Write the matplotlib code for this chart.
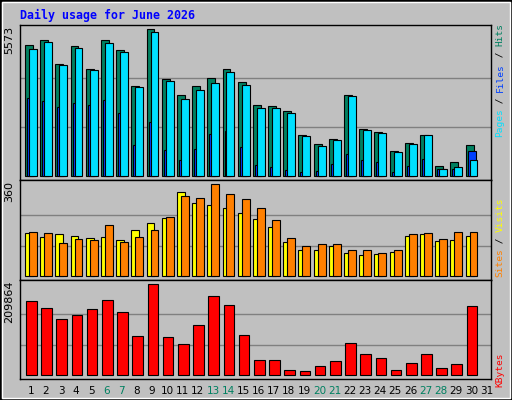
import matplotlib
matplotlib.use("Agg")
import matplotlib.pyplot as plt
from matplotlib.patches import Rectangle

days = list(range(1, 32))
weekend = [6, 7, 13, 14, 20, 21, 27, 28]
hits = [4980, 5170, 4260, 4942, 4070, 5170, 4790, 3425, 5573, 3678, 3084, 3425, 3729, 4070, 3577,
        2705, 2667, 2477, 1567, 1226, 1416, 3084, 1795, 1681, 961, 1264, 1567, 392, 544, 1188]
files = [2970, 2857, 2629, 2781, 2705, 2895, 2402, 1188, 2060, 999, 619, 1036, 1605, 1719, 1112,
         430, 354, 240, 164, 202, 468, 847, 619, 544, 164, 392, 657, 278, 278, 961]
pages = [4828, 5094, 4222, 4866, 4032, 5056, 4715, 3388, 5473, 3615, 2932, 3274, 3539, 3956, 3463,
         2591, 2591, 2402, 1529, 1150, 1378, 3046, 1757, 1643, 923, 1226, 1567, 278, 354, 619]
visits = [169, 153, 165, 157, 149, 153, 142, 181, 208, 227, 329, 286, 278, 266, 247,
          224, 192, 134, 103, 103, 118, 91, 83, 87, 95, 157, 165, 138, 142, 157]
sites = [173, 169, 130, 146, 142, 200, 134, 153, 181, 231, 313, 304, 360, 321, 301,
         266, 218, 149, 117, 126, 126, 103, 103, 91, 103, 165, 169, 146, 173, 173]
kbytes = [170800, 154700, 129400, 138600, 152400, 173100, 145500, 90400, 209864, 88100, 72000,
          115700, 182300, 161600, 92700, 35200, 35200, 12300, 10000, 21400, 32900, 74300, 49000,
          39800, 12300, 28300, 49000, 16800, 26000, 159300]

BG = "#c0c0c0"
fig = plt.figure(figsize=(5.12, 4.0), dpi=100, facecolor=BG)
fig.patches.append(Rectangle((0, 0), 1, 1, transform=fig.transFigure, fill=False,
                             edgecolor="black", lw=2))
fig.patches.append(Rectangle((2/512, 2/400), 508/512, 396/400, transform=fig.transFigure, fill=False,
                             edgecolor="white", lw=1))

L, W = 20/512, 471/512
def mk(top, bot):
    return fig.add_axes([L, 1-bot/400, W, (bot-top)/400], facecolor=BG)

ax1 = mk(24.7, 180)
ax2 = mk(180, 280)
ax3 = mk(280, 379)

def style(ax, ylo, yhi, vmax):
    ax.set_xlim(0, 31)
    ax.set_ylim(ylo, yhi)
    for k in (1, 2):
        ax.axhline(vmax*k/3, color="#808080", lw=1, zorder=0)
    ax.set_xticks([]); ax.set_yticks([])
    for s in ax.spines.values():
        s.set_color("black"); s.set_linewidth(1)

x = [d - 1 for d in days[:30]]
kw = dict(align="edge", edgecolor="black", linewidth=0.8)
ax1.bar([v + 0.33 for v in x], hits, 0.52, color="#008060", **kw)
ax1.bar([v + 0.46 for v in x], files, 0.52, color="#0040ff", **kw)
ax1.bar([v + 0.59 for v in x], pages, 0.52, color="#00e0ff", **kw)
style(ax1, -152, 5736, 5573)

ax2.bar([v + 0.33 for v in x], visits, 0.52, color="#ffff00", **kw)
ax2.bar([v + 0.59 for v in x], sites, 0.52, color="#ff8000", **kw)
style(ax2, -14.4, 375.6, 360)

ax3.bar([v + 0.4 for v in x], kbytes, 0.7, color="#ff0000", **kw)
style(ax3, -8505, 219058, 209864)

fig.text(20/512, 1-15/400, "Daily usage for June 2026", color="#0000ff", family="DejaVu Sans Mono",
         weight="bold", fontsize=8.4, va="center", ha="left")

for ax, lab in ((ax1, "5573"), (ax2, "360"), (ax3, "209864")):
    ax.text(-0.012, 0.99, lab, transform=ax.transAxes, rotation=90, ha="right", va="top",
            fontsize=8, family="DejaVu Sans")

def vlabel(xpx, ybot, segs, fs=6.8):
    cw = 0.6 * fs * 100/72
    y = ybot
    for s, c in segs:
        fig.text(xpx/512, 1-y/400, s, color=c, rotation=90, family="DejaVu Sans Mono",
                 fontsize=fs, ha="center", va="bottom")
        y -= len(s) * cw

vlabel(500, 137, [("Pages", "#00e0ff"), (" / ", "black"), ("Files", "#0040ff"),
                  (" / ", "black"), ("Hits", "#008060")])
vlabel(500, 277, [("Sites", "#ff8000"), (" / ", "black"), ("Visits", "#ffff00")])
vlabel(500, 387, [("KBytes", "#ff0000")])

for d in days:
    ax3.text(d - 1 + 0.7, -0.12, str(d), transform=ax3.get_xaxis_transform(), ha="center", va="center",
             fontsize=7.5, color="#008060" if d in weekend else "black")

fig.savefig("out.png", dpi=100, facecolor=BG)
